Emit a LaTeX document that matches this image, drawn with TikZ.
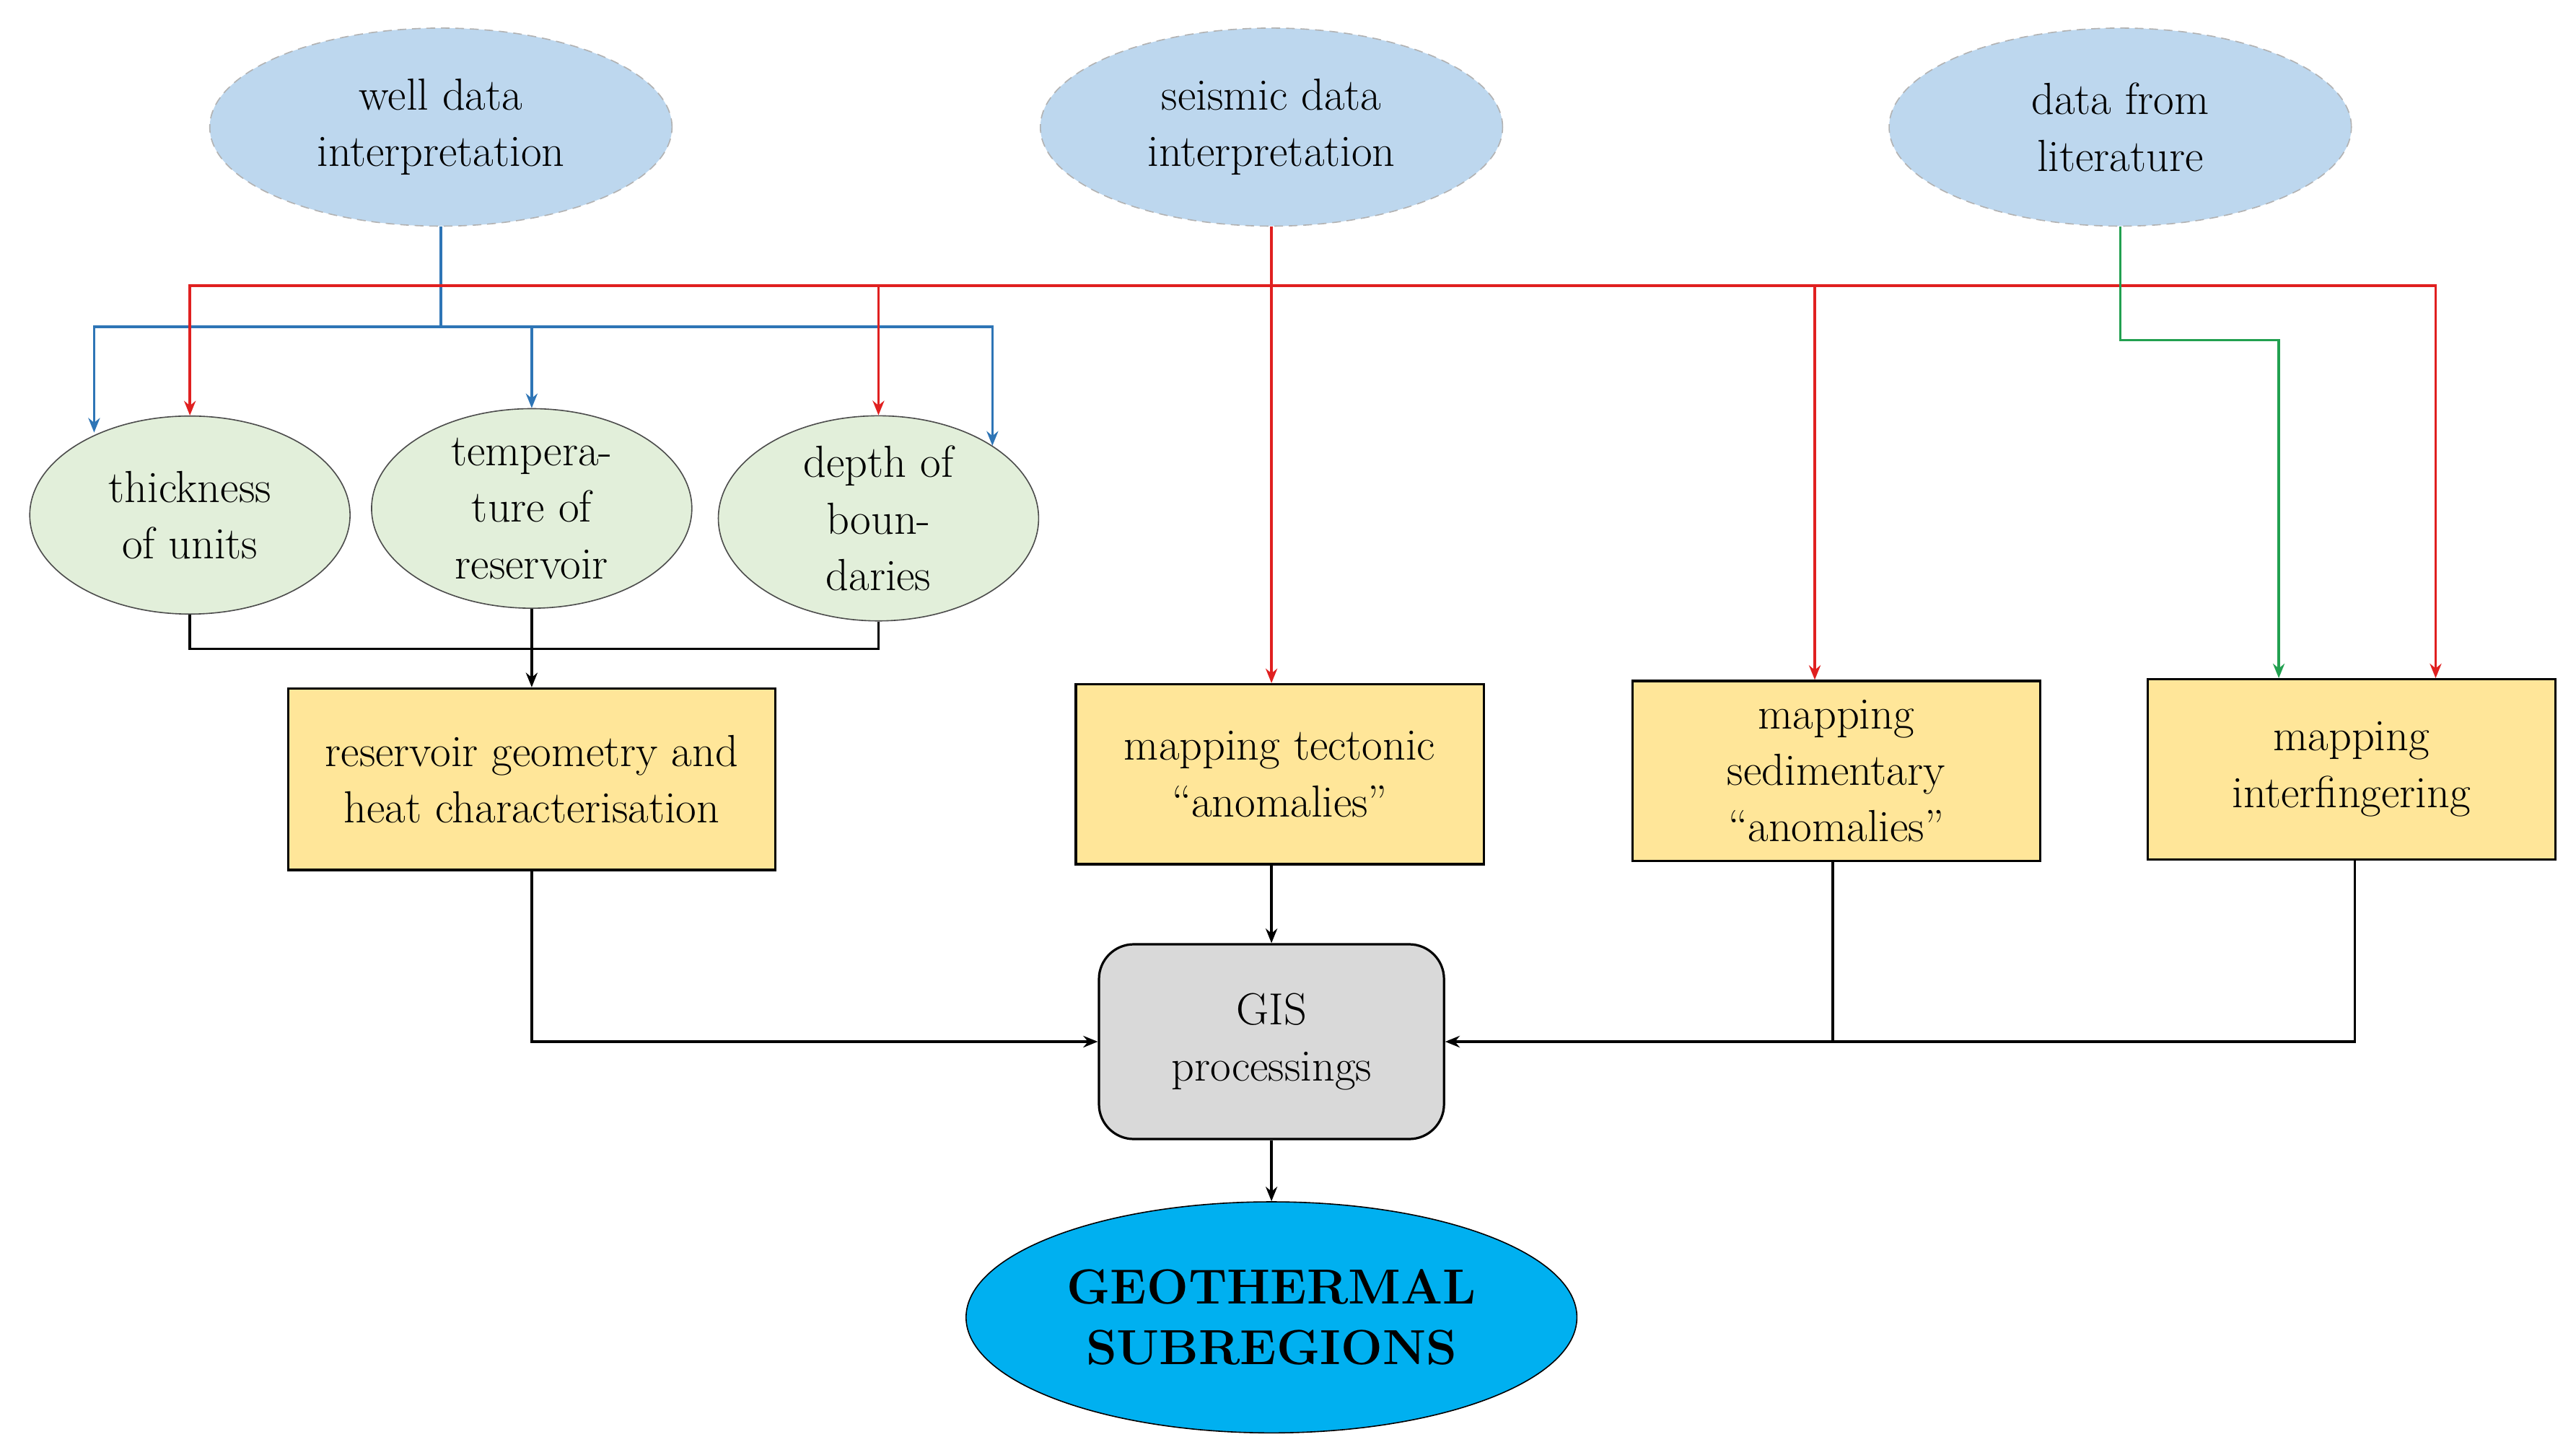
\documentclass[tikz,border=0pt]{standalone}
\usetikzlibrary{shapes.geometric,arrows.meta}
\definecolor{lb}{HTML}{BDD7EE}
\definecolor{lg}{HTML}{E2EFDA}
\definecolor{yl}{HTML}{FFE699}
\definecolor{gy}{HTML}{D9D9D9}
\definecolor{cy}{HTML}{00B0F0}
\definecolor{rd}{HTML}{E02020}
\definecolor{bl}{HTML}{2E75B6}
\definecolor{gr}{HTML}{22A050}
\begin{document}
\begin{tikzpicture}[x=0.02cm,y=-0.02cm,
  every node/.style={font=\fontsize{15.5}{19.5}\selectfont, align=center, inner sep=0pt},
  src/.style={ellipse, fill=lb, draw=gray!60, densely dashed, minimum width=5.6cm, minimum height=2.4cm},
  sub/.style={ellipse, fill=lg, draw=black!70, minimum width=3.88cm, minimum height=2.4cm},
  box/.style={rectangle, fill=yl, draw=black, thick, minimum width=4.94cm, minimum height=2.18cm},
  ar/.style={-{Stealth[length=5pt,width=4pt]}, line width=0.9pt},
  ln/.style={line width=0.9pt}]
\useasboundingbox (0,0) rectangle (1560,881);
\node[src] (well) at (267,77) {well data\\interpretation};
\node[src] (seis) at (770,77) {seismic data\\interpretation};
\node[src] (lit) at (1284,77) {data from\\literature};
\node[sub] (thick) at (115,312) {thickness\\of units};
\node[sub] (temp) at (322,308) {tempera-\\ture of\\reservoir};
\node[sub] (depth) at (532,314) {depth of\\boun-\\daries};
\node[box, minimum width=5.9cm, minimum height=2.2cm] (res) at (322,472) {reservoir geometry and\\heat characterisation};
\node[box] (tec) at (775,469) {mapping tectonic\\``anomalies''};
\node[box] (sed) at (1112,467) {mapping\\sedimentary\\``anomalies''};
\node[box] (int) at (1424,466) {mapping\\interfingering};
\node[rectangle, rounded corners=12pt, fill=gy, draw=black, thick, minimum width=4.18cm, minimum height=2.36cm] (gis) at (770,631) {GIS\\processings};
\node[ellipse, fill=cy, draw=black, minimum width=7.4cm, minimum height=2.8cm, font=\fontsize{17}{21}\selectfont\bfseries] (geo) at (770,798) {GEOTHERMAL\\SUBREGIONS};
\coordinate (wb) at (267,198);
\coordinate (rb) at (770,173);
\coordinate (lb1) at (1284,206);
\coordinate (tb) at (322,393);
% blue
\draw[ln, bl] (well.south) -- (wb);
\draw[ar, bl] (wb) -| (57,262);
\draw[ar, bl] (wb) -| (601,270);
\draw[ar, bl] (wb) -| (temp.north);
% red
\draw[ar, rd] (seis.south) -- (tec.north -| seis.south);
\draw[ar, rd] (rb) -| (thick.north);
\draw[ar, rd] (rb) -| (depth.north);
\draw[ar, rd] (rb) -| (sed.north -| 1099,0);
\draw[ar, rd] (rb) -| (int.north -| 1475,0);
% green
\draw[ar, gr] (lit.south) -- (lb1) -| (int.north -| 1380,0);
% black
\draw[ln] (thick.south) |- (tb);
\draw[ln] (depth.south) |- (tb);
\draw[ar] (temp.south) -- (res.north);
\draw[ar] (res.south) |- (gis.west);
\draw[ar] (tec.south -| gis.north) -- (gis.north);
\draw[ln] (sed.south -| 1110,0) -- (1110,631);
\draw[ar] (int.south -| 1426,0) |- (gis.east);
\draw[ar] (gis.south) -- (geo.north);
\end{tikzpicture}
\end{document}
